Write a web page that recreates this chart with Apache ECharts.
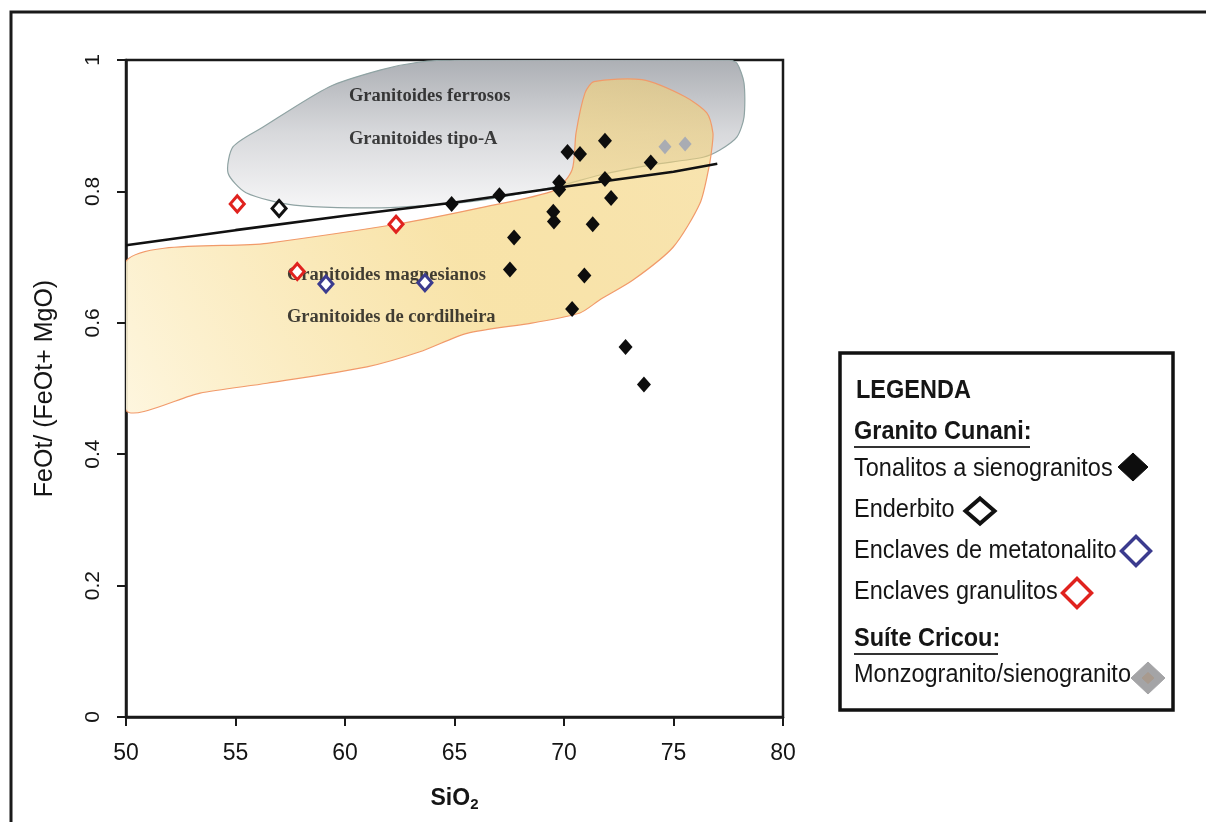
<!DOCTYPE html>
<html>
<head>
<meta charset="utf-8">
<script src="https://cdn.jsdelivr.net/npm/echarts@6/dist/echarts.min.js"></script>
<style>
  html, body { margin: 0; padding: 0; background: #ffffff; }
  #chart { width: 1206px; height: 822px; }
</style>
</head>
<body>
<div id="chart"></div>
<script>
// ---- Sample analyses: SiO2 (wt%) and FeOt/(FeOt+MgO) ----
const tonalitosSiO2 = [64.87, 67.05, 67.72, 67.53, 69.51, 69.54, 69.78, 69.78, 70.16, 70.73, 71.87, 71.87, 72.15, 71.31, 70.93, 70.37, 72.81, 73.65, 73.96];
const tonalitosFe   = [0.781, 0.794, 0.730, 0.681, 0.769, 0.754, 0.814, 0.803, 0.860, 0.857, 0.877, 0.819, 0.790, 0.750, 0.672, 0.621, 0.563, 0.506, 0.844];

const enderbitoSiO2 = [56.99];
const enderbitoFe   = [0.774];

const metatonalitoSiO2 = [59.13, 63.65];
const metatonalitoFe   = [0.659, 0.661];

const granulitosSiO2 = [55.08, 62.33, 57.82];
const granulitosFe   = [0.781, 0.750, 0.678];

const cricouSiO2 = [74.61, 75.53];
const cricouFe   = [0.868, 0.872];

// ---- Ferroan / magnesian boundary (SiO2, FeOt ratio) ----
const boundarySiO2 = [50, 55, 60, 65, 70, 75, 77];
const boundaryFe   = [0.718, 0.741, 0.763, 0.783, 0.807, 0.830, 0.842];

// ---- Field outlines (SiO2, FeOt ratio) ----
const ferroanFieldSiO2 = [65.21, 77.53, 77.90, 78.22, 78.22, 77.90, 77.12, 76.35, 73.93, 71.64, 69.59, 65.62, 61.64, 57.67, 55.48, 54.66, 54.89, 56.26, 59.27, 61.64, 63.42];
const ferroanFieldFe   = [1.000, 1.000, 0.995, 0.965, 0.913, 0.883, 0.863, 0.852, 0.840, 0.825, 0.807, 0.784, 0.775, 0.779, 0.798, 0.828, 0.868, 0.898, 0.959, 0.985, 0.997];

const magnesianFieldSiO2 = [50.00, 56.44, 62.33, 66.16, 69.59, 70.37, 70.55, 70.96, 71.37, 73.56, 75.53, 76.53, 76.80, 76.76, 76.62, 76.21, 74.98, 73.15, 71.64, 70.73, 68.58, 65.57, 63.42, 61.00, 56.44, 53.38, 50.00];
const magnesianFieldFe   = [0.694, 0.721, 0.750, 0.775, 0.802, 0.833, 0.889, 0.950, 0.967, 0.970, 0.944, 0.919, 0.889, 0.868, 0.837, 0.782, 0.715, 0.665, 0.635, 0.615, 0.600, 0.584, 0.556, 0.533, 0.508, 0.493, 0.467];

// ---- Field names ----
const fieldNames = ['Granitoides ferrosos', 'Granitoides tipo-A', 'Granitoides magnesianos', 'Granitoides de cordilheira'];

// ---- Axis ticks ----
const xTicks = [50, 55, 60, 65, 70, 75, 80];
const yTicks = [0, 0.2, 0.4, 0.6, 0.8, 1];

// where each field name starts, in axis units
const fieldNameAnchors = [[60.18, 0.945], [60.18, 0.880], [57.35, 0.673], [57.35, 0.609]];

const zip = (xs, ys) => xs.map((x, i) => [x, ys[i]]);

const SANS = '"Liberation Sans", Arial, Helvetica, sans-serif';
const SERIF = '"Liberation Serif", "Times New Roman", serif';
const INK = '#151515';

const chart = echarts.init(document.getElementById('chart'), null, { renderer: 'canvas' });

function fieldSeries(name, pts, fill, stroke, z) {
  return {
    type: 'custom',
    name: name,
    z: z,
    silent: true,
    data: [0],
    renderItem: function (params, api) {
      const cs = params.coordSys;
      return {
        type: 'polygon',
        shape: { points: pts.map(p => api.coord(p)), smooth: 0.25 },
        style: { fill: fill, stroke: stroke, lineWidth: 1.2 },
        clipPath: { type: 'rect', shape: { x: cs.x, y: cs.y, width: cs.width, height: cs.height } }
      };
    }
  };
}

function diamondPts(cx, cy, w, h) {
  return [[cx, cy - h / 2], [cx + w / 2, cy], [cx, cy + h / 2], [cx - w / 2, cy]];
}

const greyFill = new echarts.graphic.LinearGradient(0, 0, 0, 1, [
  { offset: 0, color: '#acafb4' },
  { offset: 0.5, color: '#d8d9dc' },
  { offset: 1, color: '#f6f6f7' }
]);
const yellowFill = new echarts.graphic.LinearGradient(1, 0, 0, 1, [
  { offset: 0, color: 'rgba(242,206,112,0.55)' },
  { offset: 0.45, color: 'rgba(246,218,140,0.75)' },
  { offset: 1, color: 'rgba(254,246,222,0.92)' }
]);

const legendText = (text, x, y, bold) => ({
  type: 'text', x: x, y: y, scaleY: 1.1, z: 20,
  style: { text: text, font: (bold ? 'bold ' : '') + '23.5px ' + SANS, fill: INK, verticalAlign: 'middle', align: 'left' }
});
const legendDiamond = (cx, cy, w, h, fill, stroke, lw) => ({
  type: 'polygon', z: 20,
  shape: { points: diamondPts(cx, cy, w, h) },
  style: { fill: fill, stroke: stroke, lineWidth: lw, lineJoin: 'miter' }
});

const option = {
  animation: false,
  backgroundColor: '#ffffff',
  grid: { left: 126, right: 423, top: 60, bottom: 105, show: true, borderColor: '#1a1a1a', borderWidth: 2.5, backgroundColor: 'transparent' },
  xAxis: {
    type: 'value', min: xTicks[0], max: xTicks[xTicks.length - 1], interval: 5,
    name: '{a|SiO}{b|2}', nameLocation: 'middle', nameGap: 68,
    nameTextStyle: {
      rich: {
        a: { fontFamily: SANS, fontWeight: 'bold', fontSize: 23, color: INK },
        b: { fontFamily: SANS, fontWeight: 'bold', fontSize: 15, color: INK, padding: [12, 0, 0, 0] }
      }
    },
    axisLine: { show: true, lineStyle: { color: '#1a1a1a', width: 2.5 } },
    axisTick: { show: true, inside: false, length: 9, lineStyle: { color: '#1a1a1a', width: 2 } },
    axisLabel: { margin: 25, fontFamily: SANS, fontSize: 23, color: INK },
    splitLine: { show: false }
  },
  yAxis: {
    type: 'value', min: yTicks[0], max: yTicks[yTicks.length - 1], interval: 0.2,
    name: 'FeOt/ (FeOt+ MgO)', nameLocation: 'middle', nameGap: 68,
    nameTextStyle: { fontFamily: SANS, fontSize: 25, color: INK },
    axisLine: { show: true, lineStyle: { color: '#1a1a1a', width: 2.5 } },
    axisTick: { show: true, inside: false, length: 9, lineStyle: { color: '#1a1a1a', width: 2 } },
    axisLabel: { margin: 22, rotate: 90, fontFamily: SANS, fontSize: 21, color: INK },
    splitLine: { show: false }
  },
  series: [
    fieldSeries('Granitoides ferrosos', zip(ferroanFieldSiO2, ferroanFieldFe), greyFill, '#8fa3a3', 1),
    fieldSeries('Granitoides magnesianos', zip(magnesianFieldSiO2, magnesianFieldFe), yellowFill, '#f19a6a', 2),
    {
      type: 'line', name: 'Limite ferroso/magnesiano', z: 3, silent: true,
      data: zip(boundarySiO2, boundaryFe),
      showSymbol: false, symbol: 'none',
      lineStyle: { color: '#111111', width: 2.6 }
    },
    {
      type: 'scatter', name: 'Campos', z: 4, silent: true,
      symbolSize: 0,
      data: fieldNameAnchors.map((p, i) => ({ value: p, name: fieldNames[i] })),
      label: {
        show: true, position: 'right', distance: 0,
        formatter: p => p.name,
        fontFamily: SERIF, fontWeight: 'bold', fontSize: 18.5, color: '#111111'
      }
    },
    {
      type: 'scatter', name: 'Tonalitos a sienogranitos', z: 6,
      data: zip(tonalitosSiO2, tonalitosFe),
      symbol: 'diamond', symbolSize: [14, 16],
      itemStyle: { color: '#0d0d0d', opacity: 1 }
    },
    {
      type: 'scatter', name: 'Enderbito', z: 6,
      data: zip(enderbitoSiO2, enderbitoFe),
      symbol: 'diamond', symbolSize: [14, 16],
      itemStyle: { color: '#ffffff', borderColor: '#111111', borderWidth: 3, opacity: 1 }
    },
    {
      type: 'scatter', name: 'Enclaves de metatonalito', z: 6,
      data: zip(metatonalitoSiO2, metatonalitoFe),
      symbol: 'diamond', symbolSize: [14, 16],
      itemStyle: { color: '#ffffff', borderColor: '#3b3b8e', borderWidth: 3, opacity: 1 }
    },
    {
      type: 'scatter', name: 'Enclaves granulitos', z: 6,
      data: zip(granulitosSiO2, granulitosFe),
      symbol: 'diamond', symbolSize: [14, 16],
      itemStyle: { color: '#ffffff', borderColor: '#e0221e', borderWidth: 3, opacity: 1 }
    },
    {
      type: 'scatter', name: 'Monzogranito/sienogranito', z: 6,
      data: zip(cricouSiO2, cricouFe),
      symbol: 'diamond', symbolSize: [13, 15],
      itemStyle: { color: '#a9acb3', opacity: 1 }
    }
  ],
  graphic: [
    // page frame
    { type: 'polyline', z: 10, shape: { points: [[11, 822], [11, 12], [1206, 12]] }, style: { stroke: '#1a1a1a', lineWidth: 3, fill: null } },
    // legend box
    { type: 'rect', z: 15, shape: { x: 840, y: 353, width: 333, height: 357 }, style: { fill: '#ffffff', stroke: '#111111', lineWidth: 3.5 } },
    legendText('LEGENDA', 856, 391, true),
    legendText('Granito Cunani:', 854, 432, true),
    { type: 'line', z: 20, shape: { x1: 854, y1: 447, x2: 1030, y2: 447 }, style: { stroke: '#333333', lineWidth: 2 } },
    legendText('Tonalitos a sienogranitos', 854, 469, false),
    legendDiamond(1133, 467, 30, 28, '#0d0d0d', '#0d0d0d', 1),
    legendText('Enderbito', 854, 510, false),
    legendDiamond(980, 511, 29, 25, '#ffffff', '#111111', 4),
    legendText('Enclaves de metatonalito', 854, 551, false),
    legendDiamond(1136, 551, 29, 29, '#ffffff', '#3b3b8e', 3.5),
    legendText('Enclaves granulitos', 854, 592, false),
    legendDiamond(1077, 593, 29, 29, '#ffffff', '#e0221e', 3.5),
    legendText('Suíte Cricou:', 854, 639, true),
    { type: 'line', z: 20, shape: { x1: 854, y1: 654, x2: 998, y2: 654 }, style: { stroke: '#333333', lineWidth: 2 } },
    legendText('Monzogranito/sienogranito', 854, 675, false),
    legendDiamond(1148, 678, 34, 32, '#a4a4a6', '#a4a4a6', 1),
    legendDiamond(1148, 678, 12, 11, '#a89a8e', '#a89a8e', 1)
  ]
};

chart.setOption(option);
</script>
</body>
</html>
